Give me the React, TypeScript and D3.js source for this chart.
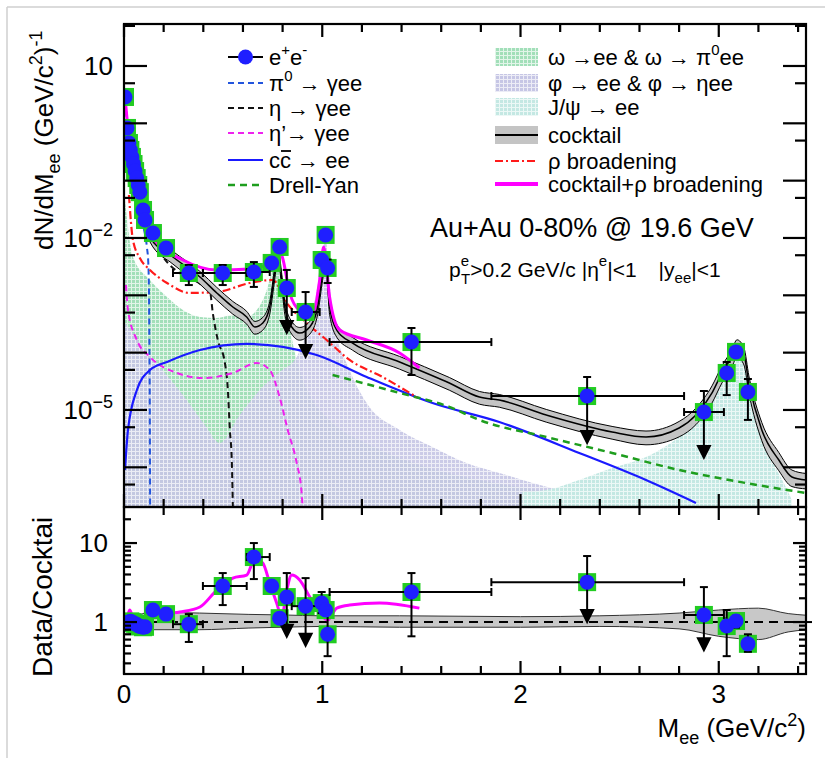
import React from "react";
import * as d3 from "d3";

const W = 825;
const H = 758;
const X0 = 124;
const X1 = 806;
const TOP = 24;
const MID = 507;
const BOT = 674;
const SANS = "'Liberation Sans', Arial, Helvetica, sans-serif";

// ---- measured e+e- yield (upper panel)
const mass = [0.005, 0.015, 0.025, 0.032, 0.04, 0.048, 0.056, 0.064, 0.072, 0.08, 0.096, 0.106, 0.146, 0.212, 0.327, 0.498, 0.655, 0.745, 0.785, 0.821, 0.916, 0.997, 1.017, 1.027, 1.45, 2.336, 2.925, 3.04, 3.087, 3.147];
const binLo = [0.005, 0.015, 0.025, 0.032, 0.04, 0.048, 0.056, 0.064, 0.072, 0.08, 0.096, 0.106, 0.146, 0.212, 0.247, 0.398, 0.619, 0.745, 0.785, 0.821, 0.846, 0.997, 1.017, 1.027, 1.037, 1.853, 2.825, 3.04, 3.087, 3.147];
const binHi = [0.005, 0.015, 0.025, 0.032, 0.04, 0.048, 0.056, 0.064, 0.072, 0.08, 0.096, 0.106, 0.146, 0.212, 0.398, 0.619, 0.735, 0.745, 0.785, 0.821, 0.987, 0.997, 1.017, 1.027, 1.853, 2.825, 3.026, 3.04, 3.087, 3.147];
const yieldV = [2.88, 0.83, 0.454, 0.343, 0.259, 0.195, 0.147, 0.111, 0.084, 0.063, 0.0308, 0.0206, 0.0122, 0.00668, 0.00245, 0.00245, 0.00255, 0.00367, 0.00697, 0.00134, 0.000512, 0.00413, 0.0113, 0.003, 1.53e-4, 1.75e-5, 9.2e-6, 4.42e-5, 1.03e-4, 2.06e-5];
const yieldLo = [null, null, null, null, null, null, null, null, null, null, null, null, null, null, 0.00151, 0.00151, 0.0014, null, 0.0062, null, null, null, null, 0.00164, 4.07e-5, null, null, 1.82e-5, 8.5e-5, 6.7e-6];
const yieldHi = [null, null, null, null, null, null, null, null, null, null, null, null, null, null, 0.00338, 0.00338, 0.0038, null, 0.0079, 0.00277, 0.00114, null, null, 0.0042, 2.69e-4, 3.76e-5, 2.14e-5, 6.87e-5, 1.2e-4, 3.47e-5];
const yieldLimit = [null, null, null, null, null, null, null, null, null, null, null, null, null, null, null, null, null, null, null, 2.2e-4, 8.4e-5, null, null, null, null, 2.65e-6, 1.46e-6, null, null, null];

// ---- data / cocktail (lower panel)
const ratioV = [0.97, 0.98, 1.0, 1.02, 1.0, 0.97, 0.95, 0.93, 0.9, 0.88, 0.86, 0.87, 1.42, 1.26, 0.94, 2.86, 6.65, 2.86, 1.12, 2.07, 1.59, 1.74, 1.42, 0.7, 2.4, 3.2, 1.23, 0.89, 1.03, 0.53];
const ratioLo = [null, null, null, null, null, null, null, null, null, null, null, null, null, null, 0.56, 1.64, 3.5, null, null, null, null, 1.3, null, 0.37, 0.66, null, null, 0.37, 0.85, 0.42];
const ratioHi = [null, null, null, null, null, null, null, null, null, null, null, null, null, null, 1.26, 4.17, 10.0, null, null, 4.17, 3.6, 2.4, null, 1.5, 4.17, 6.85, 2.77, 1.42, 1.2, 0.7];
const ratioLimit = [null, null, null, null, null, null, null, null, null, null, null, null, null, null, null, null, null, null, null, 0.65, 0.5, null, null, null, null, 1.0, 0.44, null, null, null];

// ---- cocktail sum with band
const cocktailM = [0.005, 0.02, 0.055, 0.096, 0.131, 0.247, 0.383, 0.468, 0.549, 0.619, 0.66, 0.7, 0.735, 0.76, 0.775, 0.796, 0.811, 0.846, 0.886, 0.937, 0.977, 1.002, 1.017, 1.037, 1.073, 1.153, 1.39, 1.641, 1.793, 1.893, 2.13, 2.462, 2.633, 2.8, 2.885, 2.966, 3.016, 3.066, 3.092, 3.127, 3.152, 3.217, 3.303, 3.369, 3.44];
const cocktailV = [2.88, 0.83, 0.1255, 0.0308, 0.0104, 0.00466, 0.00209, 0.0011, 6.25e-4, 4.19e-4, 2.8e-4, 3.29e-4, 6.25e-4, 0.00245, 0.00547, 0.00185, 6.25e-4, 2.8e-4, 2.2e-4, 2.8e-4, 6.25e-4, 0.00245, 0.00448, 6.25e-4, 2.48e-4, 1.47e-4, 6.87e-5, 2.95e-5, 1.68e-5, 1.49e-5, 8.17e-6, 4.13e-6, 3.38e-6, 4.85e-6, 8.17e-6, 1.98e-5, 4.42e-5, 8.4e-5, 1.26e-4, 9.1e-5, 2.95e-5, 4.48e-6, 1.34e-6, 6.78e-7, 6.0e-7];
const cocktailErr = [0.08, 0.08, 0.1, 0.12, 0.18, 0.25, 0.25, 0.25, 0.25, 0.25, 0.25, 0.25, 0.25, 0.25, 0.25, 0.25, 0.25, 0.25, 0.25, 0.25, 0.25, 0.25, 0.25, 0.25, 0.25, 0.25, 0.25, 0.25, 0.25, 0.25, 0.25, 0.25, 0.27, 0.3, 0.32, 0.33, 0.33, 0.33, 0.33, 0.33, 0.33, 0.35, 0.35, 0.32, 0.3];

// ---- components
const pi0M = [0.005, 0.03, 0.06, 0.09, 0.116, 0.122, 0.126, 0.128, 0.13, 0.132];
const pi0V = [2.5, 0.35, 0.07, 0.02, 0.0067, 0.004, 0.0012, 1.5e-4, 1.5e-5, 1e-7];
const etaM = [0.005, 0.05, 0.1, 0.2, 0.3, 0.383, 0.434, 0.448, 0.473, 0.509, 0.524, 0.534, 0.544, 0.549];
const etaV = [0.4, 0.07, 0.02, 0.0045, 0.0022, 0.0016, 0.00114, 4.9e-4, 1.66e-4, 6.6e-5, 2.2e-5, 4.5e-6, 1.2e-6, 2e-7];
const etapM = [0.01, 0.02, 0.065, 0.131, 0.267, 0.398, 0.549, 0.67, 0.735, 0.785, 0.826, 0.871, 0.896, 0.906];
const etapV = [1.51e-3, 5.55e-4, 1.66e-4, 8.4e-5, 4.42e-5, 3.61e-5, 4.42e-5, 6.6e-5, 4.98e-5, 1.68e-5, 4.48e-6, 1.19e-6, 3.56e-7, 1e-7];
const ccbarM = [0.005, 0.02, 0.065, 0.131, 0.217, 0.383, 0.619, 0.801, 0.972, 1.224, 1.556, 1.893, 2.296, 2.633, 2.885];
const ccbarV = [8.97e-7, 4.48e-6, 2.23e-5, 4.98e-5, 6.87e-5, 1.11e-4, 1.42e-4, 1.26e-4, 9.1e-5, 3.76e-5, 1.32e-5, 6.17e-6, 1.78e-6, 6.0e-7, 2.39e-7];
const dyM = [1.052, 1.39, 1.641, 1.793, 2.13, 2.462, 2.8, 3.137, 3.44];
const dyV = [4.07e-5, 1.98e-5, 1.13e-5, 6.68e-6, 3.38e-6, 1.78e-6, 8.97e-7, 5.32e-7, 3.56e-7];
const rhoM = [0.025, 0.045, 0.08, 0.131, 0.217, 0.332, 0.468, 0.634, 0.75, 0.821, 0.921, 1.022, 1.138, 1.304, 1.475];
const rhoV = [0.0562, 0.00923, 0.00448, 0.00277, 0.00164, 0.0011, 0.00114, 0.00164, 0.00185, 7.35e-4, 3.29e-4, 1.66e-4, 7.45e-5, 3.76e-5, 1.68e-5];
const sumM = [0.005, 0.02, 0.055, 0.096, 0.156, 0.297, 0.468, 0.634, 0.735, 0.775, 0.8, 0.836, 0.886, 0.952, 0.987, 1.007, 1.037, 1.088, 1.224, 1.39, 1.49];
const sumV = [2.88, 0.83, 0.1255, 0.0308, 0.00923, 0.00413, 0.00277, 0.00288, 0.00367, 0.00668, 0.00448, 0.0011, 5.55e-4, 4.92e-4, 0.00185, 0.00697, 9.35e-4, 2.48e-4, 1.66e-4, 9.86e-5, 5.4e-5];
const omegaM = [0.005, 0.045, 0.131, 0.217, 0.297, 0.383, 0.468, 0.549, 0.619, 0.67, 0.72, 0.75, 0.77, 0.78, 0.796, 0.821, 0.851, 0.886, 0.937, 1.037, 1.239, 1.49, 1.793, 2.095, 2.397];
const omegaV = [0.046, 4.66e-3, 1.85e-3, 9.35e-4, 5.55e-4, 4.19e-4, 4.02e-4, 4.54e-4, 4.19e-4, 5.55e-4, 1.24e-3, 3.12e-3, 6.17e-3, 6.97e-3, 1.85e-3, 6.25e-4, 1.47e-4, 4.98e-5, 1.82e-5, 6.7e-6, 2.45e-6, 1.1e-6, 6.0e-7, 4.0e-7, 3.0e-7];
const phiM = [0.005, 0.131, 0.297, 0.408, 0.483, 0.584, 0.685, 0.785, 0.871, 0.937, 0.977, 1.002, 1.017, 1.032, 1.052, 1.138, 1.224, 1.39, 1.556, 1.727, 1.893, 2.195, 2.497, 2.8];
const phiV = [3.29e-4, 9.1e-5, 1.82e-5, 5.47e-6, 2.65e-6, 8.17e-6, 2.23e-5, 4.6e-5, 8.4e-5, 3.7e-4, 1.51e-3, 6.2e-3, 0.0104, 2.77e-3, 4.54e-4, 4.98e-5, 1.32e-5, 4.48e-6, 2.26e-6, 1.19e-6, 7.96e-7, 4.02e-7, 2.7e-7, 2.2e-7];
const jpsiM = [2.009, 2.13, 2.296, 2.462, 2.633, 2.8, 2.885, 2.966, 3.016, 3.061, 3.087, 3.102, 3.127, 3.152, 3.202, 3.268, 3.338, 3.369];
const jpsiV = [3.7e-7, 4.02e-7, 6.0e-7, 9.7e-7, 1.51e-6, 3.38e-6, 5.93e-6, 1.32e-5, 2.95e-5, 6.6e-5, 1.11e-4, 1.26e-4, 7.45e-5, 2.95e-5, 5.05e-6, 1.34e-6, 4.54e-7, 2.7e-7];

// ---- lower panel curves
const ratioSumM = [0.015, 0.03, 0.05, 0.131, 0.282, 0.383, 0.468, 0.549, 0.619, 0.66, 0.7, 0.735, 0.77, 0.796, 0.821, 0.846, 0.886, 0.937, 0.987, 1.027, 1.073, 1.138, 1.289, 1.49];
const ratioSumV = [1.06, 1.42, 1.03, 1.23, 1.34, 1.55, 2.54, 3.6, 3.93, 6.3, 5.58, 3.11, 1.74, 1.16, 2.54, 3.93, 3.4, 2.07, 1.3, 1.06, 1.5, 1.64, 1.74, 1.5];
const bandM = [0, 0.08, 0.13, 0.38, 0.63, 0.8, 1.0, 1.39, 2.0, 2.4, 2.8, 3.0, 3.2, 3.35, 3.44];
const bandLo = [0.9, 0.82, 0.8, 0.8, 0.84, 0.86, 0.88, 0.86, 0.86, 0.88, 0.82, 0.66, 0.6, 0.75, 0.8];
const bandHi = [1.1, 1.25, 1.33, 1.3, 1.25, 1.23, 1.2, 1.2, 1.17, 1.2, 1.3, 1.42, 1.5, 1.28, 1.22];

const upperLabels = [
  { v: 10, base: "10", exp: "" },
  { v: 1e-2, base: "10", exp: "\u22122" },
  { v: 1e-5, base: "10", exp: "\u22125" },
];
const lowerLabels = ["1", "10"];
const xLabels = ["0", "1", "2", "3"];

const pair = (m: number[], v: number[]) => m.map((d, i) => [d, v[i]] as [number, number]);

function Patterns() {
  const pat = (id: string, bg: string, dot: string) => (
    <pattern id={id} width={4} height={4} patternUnits="userSpaceOnUse">
      <rect width={4} height={4} fill={bg} />
      <rect x={0} y={0} width={3} height={3} fill={dot} />
    </pattern>
  );
  return (
    <defs>
      {pat("pOmega", "#e2f5e9", "#a2dfb9")}
      {pat("pPhi", "#ececf6", "#c6c6e5")}
      {pat("pJpsi", "#ecf8f6", "#c4e8e3")}
      <clipPath id="clipUp">
        <rect x={X0} y={TOP} width={X1 - X0} height={MID - TOP} />
      </clipPath>
      <clipPath id="clipLow">
        <rect x={X0} y={MID} width={X1 - X0} height={BOT - MID} />
      </clipPath>
      <clipPath id="clipTitle">
        <rect x={0} y={517} width={120} height={240} />
      </clipPath>
    </defs>
  );
}

function Points({ x, y, vals, lo, hi, lim }: any) {
  return (
    <g>
      {mass.map((m, i) => (
        <rect key={"b" + i} x={x(m) - 9} y={y(vals[i]) - 9} width={18} height={18} fill="#22cc22" />
      ))}
      {mass.map((m, i) => {
        const cx = x(m);
        const cy = y(vals[i]);
        const els: any[] = [];
        if (binHi[i] > binLo[i]) {
          const xa = x(binLo[i]);
          const xb = x(binHi[i]);
          els.push(<line key="h" x1={xa} x2={xb} y1={cy} y2={cy} />);
          els.push(<line key="hl" x1={xa} x2={xa} y1={cy - 4} y2={cy + 4} />);
          els.push(<line key="hr" x1={xb} x2={xb} y1={cy - 4} y2={cy + 4} />);
        }
        if (hi[i] != null) {
          const yt = y(hi[i]);
          els.push(<line key="u" x1={cx} x2={cx} y1={yt} y2={cy} />);
          els.push(<line key="uc" x1={cx - 4} x2={cx + 4} y1={yt} y2={yt} />);
        }
        if (lo[i] != null) {
          const yb = y(lo[i]);
          els.push(<line key="d" x1={cx} x2={cx} y1={cy} y2={yb} />);
          els.push(<line key="dc" x1={cx - 4} x2={cx + 4} y1={yb} y2={yb} />);
        }
        if (lim[i] != null) {
          const yt = y(lim[i]);
          els.push(<line key="l" x1={cx} x2={cx} y1={cy} y2={yt - 10} />);
          els.push(<path key="a" d={`M${cx - 6},${yt - 12}L${cx + 6},${yt - 12}L${cx},${yt}Z`} fill="#000" />);
        }
        return (
          <g key={"e" + i} stroke="#000" strokeWidth={2}>
            {els}
          </g>
        );
      })}
      {mass.map((m, i) => (
        <circle key={"c" + i} cx={x(m)} cy={y(vals[i])} r={7.5} fill="#1f1fff" />
      ))}
    </g>
  );
}

export default function App() {
  const x = d3.scaleLinear().domain([0, 3.44]).range([X0, X1]);
  const yU = d3.scaleLog().domain([2.03e-7, 54]).range([MID, TOP]);
  const yL = d3.scaleLog().domain([0.22, 28.6]).range([BOT, MID]);

  const line = d3
    .line<[number, number]>()
    .x((d) => x(d[0]))
    .y((d) => yU(d[1]))
    .curve(d3.curveMonotoneX);
  const fill = d3
    .area<[number, number]>()
    .x((d) => x(d[0]))
    .y0(MID)
    .y1((d) => yU(d[1]))
    .curve(d3.curveMonotoneX);
  const band = d3
    .area<number>()
    .x((d, i) => x(cocktailM[i]))
    .y0((d, i) => yU(d * (1 - cocktailErr[i])))
    .y1((d, i) => yU(d * (1 + cocktailErr[i])))
    .curve(d3.curveMonotoneX);
  const bandEdge = (s: number) =>
    d3
      .line<number>()
      .x((d, i) => x(cocktailM[i]))
      .y((d, i) => yU(d * (1 + s * cocktailErr[i])))
      .curve(d3.curveMonotoneX)(cocktailV) as string;
  const lowBand = d3
    .area<number>()
    .x((d) => x(d))
    .y0((d, i) => yL(bandLo[i]))
    .y1((d, i) => yL(bandHi[i]))
    .curve(d3.curveMonotoneX);
  const lowLine = d3
    .line<[number, number]>()
    .x((d) => x(d[0]))
    .y((d) => yL(d[1]))
    .curve(d3.curveMonotoneX);

  const xMinor = d3.range(0, 3.45, 0.2);
  const upMajor = d3.range(-6, 2).map((e) => Math.pow(10, e));
  const upMinor = d3.range(-7, 2).map((e) => 5 * Math.pow(10, e)).filter((v) => v > 2.03e-7 && v < 54);
  const lowMajor = [1, 10];
  const lowMinor = [0.3, 0.4, 0.5, 0.6, 0.7, 0.8, 0.9, 2, 3, 4, 5, 6, 7, 8, 9, 20];

  const legL = [57, 83, 108, 133, 160, 185];
  const legR = [57, 83, 107, 135, 161, 184];
  const lx0 = 228;
  const lx1 = 263;
  const rx0 = 495;
  const rx1 = 538;

  return (
    <div style={{ position: "absolute", left: 0, top: 0, width: W, height: H, background: "#fff" }}>
      <svg width={W} height={H} style={{ display: "block", fontFamily: SANS }}>
        <Patterns />
        <line x1={7} x2={W} y1={7} y2={7} stroke="#cfcfcf" strokeWidth={1.5} />
        <line x1={7} x2={7} y1={7} y2={H} stroke="#cfcfcf" strokeWidth={1.5} />

        {/* upper panel */}
        <g clipPath="url(#clipUp)">
          <path d={fill(pair(omegaM, omegaV)) as string} fill="url(#pOmega)" />
          <path d={fill(pair(phiM, phiV)) as string} fill="url(#pPhi)" opacity={0.92} />
          <path d={fill(pair(jpsiM, jpsiV)) as string} fill="url(#pJpsi)" />

          <path d={line(pair(pi0M, pi0V)) as string} fill="none" stroke="#2255dd" strokeWidth={2} strokeDasharray="6 4" />
          <path d={line(pair(etaM, etaV)) as string} fill="none" stroke="#111" strokeWidth={2} strokeDasharray="6 4" />
          <path d={line(pair(etapM, etapV)) as string} fill="none" stroke="#ee22ee" strokeWidth={2} strokeDasharray="6 4" />
          <path d={line(pair(ccbarM, ccbarV)) as string} fill="none" stroke="#1a1aff" strokeWidth={2.2} />
          <path d={line(pair(dyM, dyV)) as string} fill="none" stroke="#1e9e1e" strokeWidth={2.5} strokeDasharray="7 5" />
          <path d={line(pair(rhoM, rhoV)) as string} fill="none" stroke="#ff1a1a" strokeWidth={2.2} strokeDasharray="8 3 2 3" />

          <path d={band(cocktailV) as string} fill="#c4c4c4" />
          <path d={bandEdge(1)} fill="none" stroke="#000" strokeWidth={1} />
          <path d={bandEdge(-1)} fill="none" stroke="#000" strokeWidth={1} />
          <path d={line(pair(cocktailM, cocktailV)) as string} fill="none" stroke="#000" strokeWidth={1.5} />
          <path d={line(pair(sumM, sumV)) as string} fill="none" stroke="#ff00ff" strokeWidth={3} />

          <Points x={x} y={yU} vals={yieldV} lo={yieldLo} hi={yieldHi} lim={yieldLimit} />
        </g>

        {/* lower panel */}
        <g clipPath="url(#clipLow)">
          <path d={lowBand(bandM) as string} fill="#c8c8c8" stroke="#333" strokeWidth={1} />
          <line x1={X0} x2={X1} y1={yL(1)} y2={yL(1)} stroke="#000" strokeWidth={2} strokeDasharray="9 6" />
          <path d={lowLine(pair(ratioSumM, ratioSumV)) as string} fill="none" stroke="#ff00ff" strokeWidth={3} />
          <Points x={x} y={yL} vals={ratioV} lo={ratioLo} hi={ratioHi} lim={ratioLimit} />
        </g>
        <line x1={X1} x2={818} y1={yL(1)} y2={yL(1)} stroke="#000" strokeWidth={2} strokeDasharray="9 6" strokeDashoffset={3} />

        {/* frames & ticks */}
        <g stroke="#000" strokeWidth={2.2} fill="none">
          <rect x={X0} y={TOP} width={X1 - X0} height={MID - TOP} />
          <rect x={X0} y={MID} width={X1 - X0} height={BOT - MID} />
          {xMinor.map((t) => {
            const px = x(t);
            const major = Math.abs(t - Math.round(t)) < 1e-6;
            const l = major ? 13 : 8;
            return (
              <g key={"xt" + t}>
                <line x1={px} x2={px} y1={TOP} y2={TOP + l} />
                <line x1={px} x2={px} y1={MID} y2={MID - l} />
                <line x1={px} x2={px} y1={MID} y2={MID + l} />
                <line x1={px} x2={px} y1={BOT} y2={BOT - l} />
              </g>
            );
          })}
          {upMajor.map((v) => (
            <g key={"yu" + v}>
              <line x1={X0} x2={X0 + 23} y1={yU(v)} y2={yU(v)} />
              <line x1={X1} x2={X1 - 23} y1={yU(v)} y2={yU(v)} />
            </g>
          ))}
          {upMinor.map((v) => (
            <g key={"yum" + v}>
              <line x1={X0} x2={X0 + 11} y1={yU(v)} y2={yU(v)} />
              <line x1={X1} x2={X1 - 11} y1={yU(v)} y2={yU(v)} />
            </g>
          ))}
          {lowMajor.map((v) => (
            <g key={"yl" + v}>
              <line x1={X0} x2={X0 + 13} y1={yL(v)} y2={yL(v)} />
              <line x1={X1} x2={X1 - 13} y1={yL(v)} y2={yL(v)} />
            </g>
          ))}
          {lowMinor.map((v) => (
            <g key={"ylm" + v}>
              <line x1={X0} x2={X0 + 7} y1={yL(v)} y2={yL(v)} />
              <line x1={X1} x2={X1 - 7} y1={yL(v)} y2={yL(v)} />
            </g>
          ))}
        </g>

        {/* tick labels */}
        <g fontSize={26} fill="#000">
          {upperLabels.map((d) => (
            <text key={d.v} x={113} y={yU(d.v) + 9} textAnchor="end">
              {d.base}
              {d.exp && (
                <tspan fontSize={18} dy={-11}>
                  {d.exp}
                </tspan>
              )}
            </text>
          ))}
          {lowerLabels.map((s) => (
            <text key={s} x={108} y={yL(+s) + 9} textAnchor="end">
              {s}
            </text>
          ))}
          {xLabels.map((s) => (
            <text key={s} x={x(+s)} y={703} textAnchor="middle">
              {s}
            </text>
          ))}
        </g>

        {/* axis titles */}
        <text transform="translate(53,250) rotate(-90)" fontSize={26}>
          dN/dM<tspan fontSize={18} dy={7}>ee</tspan>
          <tspan dy={-7}> (GeV/c</tspan>
          <tspan fontSize={18} dy={-11}>2</tspan>
          <tspan dy={11}>)</tspan>
          <tspan fontSize={18} dy={-11}>-1</tspan>
        </text>
        <g clipPath="url(#clipTitle)">
          <text transform="translate(52,677) rotate(-90)" fontSize={28}>
            Data/Cocktail
          </text>
        </g>
        <text x={806} y={737} textAnchor="end" fontSize={26}>
          M<tspan fontSize={18} dy={7}>ee</tspan>
          <tspan dy={-7}> (GeV/c</tspan>
          <tspan fontSize={18} dy={-11}>2</tspan>
          <tspan dy={11}>)</tspan>
        </text>

        {/* legend, left */}
        <g fontSize={22}>
          <line x1={lx0} x2={lx1} y1={legL[0]} y2={legL[0]} stroke="#000" strokeWidth={2} />
          <circle cx={(lx0 + lx1) / 2} cy={legL[0]} r={7.5} fill="#1f1fff" />
          <line x1={lx0} x2={lx1} y1={legL[1]} y2={legL[1]} stroke="#2255dd" strokeWidth={2} strokeDasharray="6 4" />
          <line x1={lx0} x2={lx1} y1={legL[2]} y2={legL[2]} stroke="#111" strokeWidth={2} strokeDasharray="6 4" />
          <line x1={lx0} x2={lx1} y1={legL[3]} y2={legL[3]} stroke="#ee22ee" strokeWidth={2} strokeDasharray="6 4" />
          <line x1={lx0} x2={lx1} y1={legL[4]} y2={legL[4]} stroke="#1a1aff" strokeWidth={2.2} />
          <line x1={lx0} x2={lx1} y1={legL[5]} y2={legL[5]} stroke="#1e9e1e" strokeWidth={2.5} strokeDasharray="7 5" />
          <text x={269} y={legL[0] + 8}>
            e<tspan fontSize={15} dy={-10}>+</tspan>
            <tspan dy={10}>e</tspan>
            <tspan fontSize={15} dy={-10}>-</tspan>
          </text>
          <text x={269} y={legL[1] + 8}>
            π<tspan fontSize={15} dy={-10}>0</tspan>
            <tspan dy={10}> → γee</tspan>
          </text>
          <text x={269} y={legL[2] + 8}>η → γee</text>
          <text x={269} y={legL[3] + 8}>η’→ γee</text>
          <text x={269} y={legL[4] + 8}>cc → ee</text>
          <line x1={281} x2={291} y1={legL[4] - 9} y2={legL[4] - 9} stroke="#000" strokeWidth={1.8} />
          <text x={269} y={legL[5] + 8}>Drell-Yan</text>
        </g>

        {/* legend, right */}
        <g fontSize={22}>
          <rect x={rx0} y={legR[0] - 9} width={rx1 - rx0} height={18} fill="url(#pOmega)" />
          <rect x={rx0} y={legR[1] - 9} width={rx1 - rx0} height={18} fill="url(#pPhi)" />
          <rect x={rx0} y={legR[2] - 9} width={rx1 - rx0} height={18} fill="url(#pJpsi)" />
          <rect x={rx0} y={legR[3] - 9} width={rx1 - rx0} height={18} fill="#c4c4c4" />
          <line x1={rx0} x2={rx1} y1={legR[3]} y2={legR[3]} stroke="#000" strokeWidth={2} />
          <line x1={rx0} x2={rx1} y1={legR[4]} y2={legR[4]} stroke="#ff1a1a" strokeWidth={2.2} strokeDasharray="8 3 2 3" />
          <line x1={rx0} x2={rx1} y1={legR[5]} y2={legR[5]} stroke="#ff00ff" strokeWidth={4} />
          <text x={548} y={legR[0] + 8}>
            ω →ee &amp; ω → π<tspan fontSize={15} dy={-10}>0</tspan>
            <tspan dy={10}>ee</tspan>
          </text>
          <text x={548} y={legR[1] + 8}>φ → ee &amp; φ → ηee</text>
          <text x={548} y={legR[2] + 8}>J/ψ → ee</text>
          <text x={548} y={legR[3] + 8}>cocktail</text>
          <text x={548} y={legR[4] + 8}>ρ broadening</text>
          <text x={548} y={legR[5] + 8}>cocktail+ρ broadening</text>
        </g>

        <text x={430} y={237} fontSize={27}>
          Au+Au 0-80% @ 19.6 GeV
        </text>
        <text x={449} y={277} fontSize={21}>
          p<tspan fontSize={15} dy={-11}>e</tspan>
          <tspan fontSize={15} dx={-8} dy={18}>T</tspan>
          <tspan dy={-7}>&gt;0.2 GeV/c |η</tspan>
          <tspan fontSize={15} dy={-11}>e</tspan>
          <tspan dy={11}>|&lt;1</tspan>
          <tspan dx={22}>|y</tspan>
          <tspan fontSize={15} dy={6}>ee</tspan>
          <tspan dy={-6}>|&lt;1</tspan>
        </text>
      </svg>
    </div>
  );
}
